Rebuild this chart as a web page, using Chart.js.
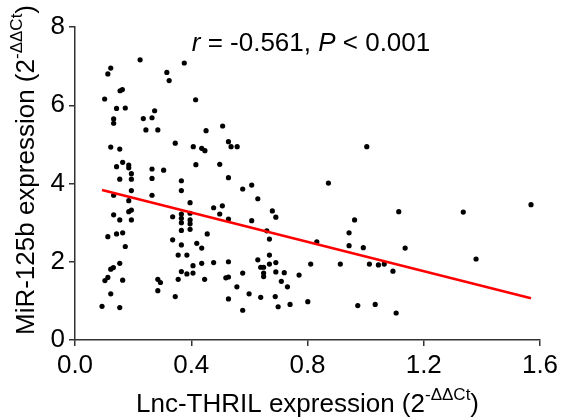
<!DOCTYPE html>
<html>
<head>
<meta charset="utf-8">
<script src="https://cdn.jsdelivr.net/npm/chart.js@4.4.1/dist/chart.umd.min.js"></script>
<style>
  html, body { margin: 0; padding: 0; background: #fff; }
  #wrap { width: 564px; height: 420px; }
</style>
</head>
<body>
<div id="wrap"><canvas id="scatter"></canvas></div>
<script>
// Lnc-THRIL vs MiR-125b expression, one entry per sample

var lncThril = [
  0.224, 0.123, 0.113, 0.316, 0.324, 0.376, 0.155, 0.163, 0.102, 0.415,
  0.143, 0.173, 0.274, 0.133, 0.133, 0.235, 0.265, 0.244, 0.285, 0.508,
  0.451, 0.123, 0.154, 0.345, 0.407, 0.164, 0.143, 0.185, 0.185, 0.416,
  0.194, 0.194, 0.154, 0.265, 0.265, 0.305, 0.366, 0.194, 0.366, 0.133,
  0.265, 0.185, 0.396, 0.185, 0.194, 0.133, 0.154, 0.194, 0.336, 0.366,
  0.366, 0.366, 0.396, 0.396, 0.396, 0.366, 0.396, 0.113, 0.143, 0.164,
  0.336, 0.436, 0.447, 0.528, 0.537, 0.558, 0.498, 0.528, 0.577, 0.608,
  0.629, 0.477, 0.507, 0.498, 0.528, 0.608, 0.679, 0.691, 0.660, 0.455,
  0.669, 1.004, 0.872, 1.114, 0.962, 0.943, 1.336, 1.569, 0.173, 0.154,
  0.123, 0.132, 0.113, 0.103, 0.164, 0.123, 0.093, 0.154, 0.366, 0.355,
  0.385, 0.419, 0.406, 0.366, 0.385, 0.406, 0.355, 0.285, 0.294, 0.285,
  0.345, 0.436, 0.436, 0.477, 0.528, 0.446, 0.519, 0.528, 0.577, 0.557,
  0.528, 0.599, 0.577, 0.629, 0.669, 0.669, 0.691, 0.639, 0.649, 0.649,
  0.649, 0.691, 0.720, 0.710, 0.731, 0.771, 0.811, 0.689, 0.639, 0.699,
  0.740, 0.801, 0.832, 0.943, 0.992, 1.136, 0.913, 1.013, 1.044, 1.064,
  1.094, 0.973, 1.033, 1.105, 1.380
];

var mir125b = [
  7.16, 6.95, 6.80, 6.84, 6.63, 7.08, 6.37, 6.40, 6.16, 6.14,
  5.92, 5.93, 5.86, 5.65, 5.54, 5.66, 5.68, 5.37, 5.37, 5.47,
  5.35, 4.93, 4.88, 5.03, 4.94, 4.54, 4.43, 4.47, 4.40, 4.48,
  4.25, 4.11, 4.11, 4.37, 4.13, 4.34, 4.07, 3.82, 3.82, 3.70,
  3.70, 3.56, 3.51, 3.28, 3.32, 3.20, 3.07, 3.07, 3.15, 3.22,
  3.11, 3.00, 3.24, 3.07, 2.97, 2.80, 2.83, 2.64, 2.71, 2.74,
  2.56, 4.90, 4.84, 5.07, 4.94, 4.94, 4.49, 4.15, 3.86, 3.96,
  3.61, 3.38, 3.43, 3.22, 3.09, 3.05, 3.30, 3.14, 2.79, 2.71,
  2.58, 4.94, 4.01, 3.28, 3.07, 2.74, 3.27, 3.46, 2.39, 1.96,
  1.81, 1.85, 1.60, 1.52, 1.53, 1.18, 0.86, 0.83, 2.43, 2.17,
  2.17, 2.47, 1.90, 1.75, 1.69, 1.71, 1.55, 1.55, 1.47, 1.26,
  1.11, 2.35, 1.96, 1.98, 2.00, 1.55, 1.59, 1.61, 1.71, 1.36,
  1.05, 1.18, 0.76, 2.05, 2.17, 1.94, 1.98, 1.86, 1.86, 1.71,
  1.62, 1.74, 1.72, 1.50, 1.36, 1.66, 1.94, 1.11, 1.09, 0.85,
  0.91, 0.98, 2.51, 2.41, 2.36, 2.35, 1.94, 1.94, 1.92, 1.94,
  1.76, 0.88, 0.91, 0.69, 2.07
];

var xTicks = [0, 0.4, 0.8, 1.2, 1.6];
var yTicks = [0, 2, 4, 6, 8];

// linear fit drawn in red
var fitSlope = -1.875;
var fitIntercept = 4.01;

var FONT = "'Liberation Sans', Arial, Helvetica, sans-serif";
var SIZE = 26;

var points = lncThril.map(function (x, i) {
  return { x: x, y: mir125b[i] };
});

var xMin = Math.min.apply(null, lncThril);
var xMax = Math.max.apply(null, lncThril);
var fitLine = [
  { x: xMin, y: fitIntercept + fitSlope * xMin },
  { x: xMax, y: fitIntercept + fitSlope * xMax }
];

// draws text made of runs (normal / italic / superscript), centred on x
function drawRuns(ctx, runs, x, y, size) {
  var supSize = Math.round(size * 0.65);
  function fontOf(r) {
    return (r.italic ? 'italic ' : '') + (r.sup ? supSize : size) + 'px ' + FONT;
  }
  var total = 0;
  runs.forEach(function (r) {
    ctx.font = fontOf(r);
    total += ctx.measureText(r.t).width;
  });
  var cx = x - total / 2;
  ctx.textAlign = 'left';
  ctx.textBaseline = 'alphabetic';
  runs.forEach(function (r) {
    ctx.font = fontOf(r);
    ctx.fillText(r.t, cx, r.sup ? y - size * 0.45 : y);
    cx += ctx.measureText(r.t).width;
  });
}

var labelsPlugin = {
  id: 'labels',
  afterDraw: function (chart) {
    var ctx = chart.ctx;
    var area = chart.chartArea;
    ctx.save();
    ctx.fillStyle = '#000';

    // x axis title
    drawRuns(ctx, [
      { t: 'Lnc-THRIL expression (2' },
      { t: '-\u0394\u0394Ct', sup: true },
      { t: ')' }
    ], (area.left + area.right) / 2, 412, SIZE);

    // y axis title
    ctx.save();
    ctx.translate(34, 170);
    ctx.rotate(-Math.PI / 2);
    drawRuns(ctx, [
      { t: 'MiR-125b expression (2' },
      { t: '-\u0394\u0394Ct', sup: true },
      { t: ')' }
    ], 0, 0, SIZE);
    ctx.restore();

    // correlation note
    drawRuns(ctx, [
      { t: 'r', italic: true },
      { t: ' = -0.561, ' },
      { t: 'P', italic: true },
      { t: ' < 0.001' }
    ], 311, 51, SIZE);

    ctx.restore();
  }
};

var ctx = document.getElementById('scatter').getContext('2d');
new Chart(ctx, {
  type: 'scatter',
  data: {
    datasets: [
      {
        label: 'Samples',
        data: points,
        backgroundColor: '#000',
        borderColor: '#000',
        pointRadius: 2.6,
        pointBorderWidth: 0,
        order: 2
      },
      {
        type: 'line',
        label: 'Fit',
        data: fitLine,
        borderColor: '#f00',
        borderWidth: 2.5,
        pointRadius: 0,
        fill: false,
        order: 1
      }
    ]
  },
  options: {
    responsive: true,
    maintainAspectRatio: false,
    animation: false,
    layout: { padding: { top: 27, right: 24, left: 0, bottom: 0 } },
    plugins: {
      legend: { display: false },
      tooltip: { enabled: false }
    },
    scales: {
      x: {
        type: 'linear',
        min: 0,
        max: 1.6,
        afterBuildTicks: function (s) {
          s.ticks = xTicks.map(function (v) { return { value: v }; });
        },
        afterFit: function (s) { s.height = 80; },
        ticks: {
          color: '#000',
          padding: 4,
          font: { family: FONT, size: SIZE },
          callback: function (v) { return v.toFixed(1); }
        },
        grid: { drawOnChartArea: false, drawTicks: true, tickLength: 6, color: '#333', lineWidth: 1.5 },
        border: { color: '#333', width: 1.5 }
      },
      y: {
        min: 0,
        max: 8,
        afterBuildTicks: function (s) {
          s.ticks = yTicks.map(function (v) { return { value: v }; });
        },
        afterFit: function (s) { s.width = 75; },
        ticks: {
          color: '#000',
          padding: 4,
          font: { family: FONT, size: SIZE },
          callback: function (v) { return String(v); }
        },
        grid: { drawOnChartArea: false, drawTicks: true, tickLength: 6, color: '#333', lineWidth: 1.5 },
        border: { color: '#333', width: 1.5 }
      }
    }
  },
  plugins: [labelsPlugin]
});
</script>
</body>
</html>
